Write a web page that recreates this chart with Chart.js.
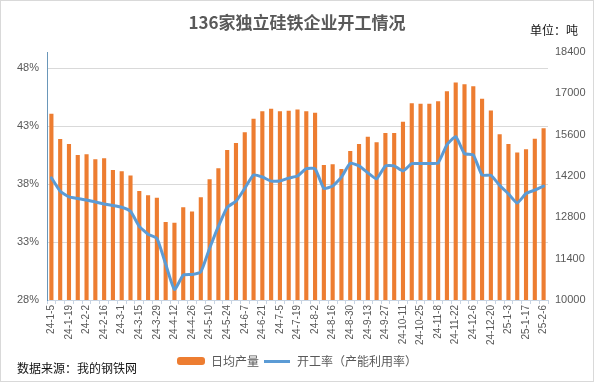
<!DOCTYPE html>
<html>
<head>
<meta charset="utf-8">
<script src="https://cdn.jsdelivr.net/npm/chart.js@4.4.1/dist/chart.umd.min.js"></script>
<style>
  html, body { margin: 0; padding: 0; background: #fff; }
  #wrap { position: relative; width: 594px; height: 382px; overflow: hidden; }
  #c { position: absolute; left: 0; top: 0; }
  #frame { position: absolute; left: 0; top: 0; width: 594px; height: 382px; box-sizing: border-box; border: 1px solid #d9d9d9; pointer-events: none; }
  #unit { position: absolute; left: 530px; top: 22px; font: 12px "Noto Sans CJK SC", sans-serif; color: #111; line-height: 16px; white-space: nowrap; }
  #source { position: absolute; left: 17px; top: 360px; font: 12px "Noto Sans CJK SC", sans-serif; color: #111; line-height: 16px; white-space: nowrap; }
</style>
</head>
<body>
<div id="wrap">
  <canvas id="c" width="594" height="382"></canvas>
  <div id="unit">单位：吨</div>
  <div id="source">数据来源：我的钢铁网</div>
  <div id="frame"></div>
</div>
<script>
// ---- data ----
const TITLE = '136家独立硅铁企业开工情况';
const categories = [
  '24-1-5','24-1-12','24-1-19','24-1-26','24-2-2','24-2-9','24-2-16','24-2-23',
  '24-3-1','24-3-8','24-3-15','24-3-22','24-3-29','24-4-5','24-4-12','24-4-19',
  '24-4-26','24-5-3','24-5-10','24-5-17','24-5-24','24-5-31','24-6-7','24-6-14',
  '24-6-21','24-6-28','24-7-5','24-7-12','24-7-19','24-7-26','24-8-2','24-8-9',
  '24-8-16','24-8-23','24-8-30','24-9-6','24-9-13','24-9-20','24-9-27','24-10-4',
  '24-10-11','24-10-18','24-10-25','24-11-1','24-11-8','24-11-15','24-11-22','24-11-29',
  '24-12-6','24-12-13','24-12-20','24-12-27','25-1-3','25-1-10','25-1-17','25-1-24','25-2-6'
];
const dailyOutput = [
  16310,15450,15280,14910,14940,14770,14800,14400,14360,14220,
  13690,13550,13460,12640,12620,13140,13000,13480,14090,14460,
  15080,15320,15680,16140,16390,16480,16390,16410,16450,16390,
  16340,14570,14600,14440,15050,15280,15530,15340,15660,15660,
  16040,16660,16650,16650,16730,17070,17370,17310,17240,16820,
  16420,15610,15280,15000,15110,15460,15820
];
const operatingRate = [
  38.55,37.39,36.90,36.76,36.63,36.46,36.29,36.15,36.00,35.65,
  34.35,33.68,33.33,31.10,28.90,30.15,30.20,30.43,32.46,34.35,
  36.00,36.52,37.63,38.78,38.61,38.26,38.26,38.52,38.70,39.33,
  39.33,37.63,37.83,38.61,39.80,39.57,38.98,38.46,39.57,39.57,
  39.13,39.77,39.77,39.77,39.83,41.39,42.09,40.63,40.52,38.78,
  38.76,37.89,37.16,36.37,37.19,37.48,37.83
];
const leftTicks = [28, 33, 38, 43, 48];
const rightTicks = [10000, 11400, 12800, 14200, 15600, 17000, 18400];
const seriesNames = ['日均产量', '开工率（产能利用率）'];

// ---- styling ----
const ORANGE = '#ED7D31';
const BLUE = '#5B9BD5';
const TEXT = '#595959';
const NUMFONT = '"Liberation Sans", "Noto Sans CJK SC", sans-serif';
const CJKFONT = '"Noto Sans CJK SC", sans-serif';

function makeIcon(kind) {
  const cv = document.createElement('canvas');
  if (kind === 'bar') {
    cv.width = 28; cv.height = 8;
    const g = cv.getContext('2d');
    g.fillStyle = ORANGE;
    g.beginPath();
    if (g.roundRect) g.roundRect(0, 0, 28, 8, 3); else g.rect(0, 0, 28, 8);
    g.fill();
  } else {
    cv.width = 26; cv.height = 3;
    const g = cv.getContext('2d');
    g.fillStyle = BLUE;
    g.fillRect(0, 0, 26, 3);
  }
  return cv;
}
const icons = [makeIcon('bar'), makeIcon('line')];

new Chart(document.getElementById('c'), {
  data: {
    labels: categories,
    datasets: [
      {
        type: 'bar',
        label: seriesNames[0],
        data: dailyOutput,
        yAxisID: 'y1',
        backgroundColor: ORANGE,
        borderWidth: 0,
        barPercentage: 0.47,
        categoryPercentage: 1,
        order: 2
      },
      {
        type: 'line',
        label: seriesNames[1],
        data: operatingRate,
        yAxisID: 'y',
        borderColor: BLUE,
        backgroundColor: BLUE,
        borderWidth: 3,
        pointRadius: 0,
        tension: 0.15,
        borderCapStyle: 'round',
        borderJoinStyle: 'round',
        order: 1
      }
    ]
  },
  options: {
    responsive: false,
    animation: false,
    devicePixelRatio: 1,
    layout: { padding: { left: 0, right: 0, top: 0, bottom: 5 } },
    plugins: {
      tooltip: { enabled: false },
      title: {
        display: true,
        text: TITLE,
        color: TEXT,
        font: { family: CJKFONT, size: 17, weight: 'bold', lineHeight: 1.2 },
        padding: { top: 12, bottom: 19.6 }
      },
      legend: {
        display: true,
        position: 'bottom',
        labels: {
          usePointStyle: true,
          pointStyleWidth: 28,
          padding: 4,
          color: TEXT,
          font: { family: CJKFONT, size: 12 },
          generateLabels: (chart) => chart.data.datasets.map((ds, i) => ({
            text: ds.label,
            pointStyle: icons[i],
            fillStyle: i === 0 ? ORANGE : BLUE,
            strokeStyle: i === 0 ? ORANGE : BLUE,
            lineWidth: 0,
            fontColor: TEXT,
            hidden: false,
            datasetIndex: i
          }))
        }
      }
    },
    scales: {
      x: {
        type: 'category',
        offset: true,
        afterFit: (s) => { s.height = 51; },
        grid: { display: true, drawOnChartArea: false, drawTicks: true, tickLength: 4, color: '#c8d4e2', offset: true },
        border: { display: true, color: '#c8d4e2', width: 1 },
        ticks: {
          autoSkip: false,
          maxRotation: 90,
          minRotation: 90,
          padding: 1,
          color: TEXT,
          font: { family: NUMFONT, size: 10 },
          callback: function (v, i) { return i % 2 === 0 ? this.getLabelForValue(v) : ''; }
        }
      },
      y: {
        type: 'linear',
        position: 'left',
        min: 28,
        max: 49.4,
        afterFit: (s) => { s.width = 47; },
        afterBuildTicks: (s) => { s.ticks = leftTicks.map(v => ({ value: v })); },
        grid: { color: '#d9d9d9', drawTicks: false, lineWidth: 1 },
        border: { display: true, color: '#6a97b9', width: 1 },
        ticks: {
          padding: 8,
          color: TEXT,
          font: { family: NUMFONT, size: 11 },
          callback: (v) => v + '%'
        }
      },
      y1: {
        type: 'linear',
        position: 'right',
        min: 10000,
        max: 18400,
        afterFit: (s) => { s.width = 46; },
        afterBuildTicks: (s) => { s.ticks = rightTicks.map(v => ({ value: v })); },
        grid: { display: false, drawTicks: false },
        border: { display: false },
        ticks: {
          padding: 7,
          color: TEXT,
          font: { family: NUMFONT, size: 11 },
          callback: (v) => String(v)
        }
      }
    }
  }
});
</script>
</body>
</html>
